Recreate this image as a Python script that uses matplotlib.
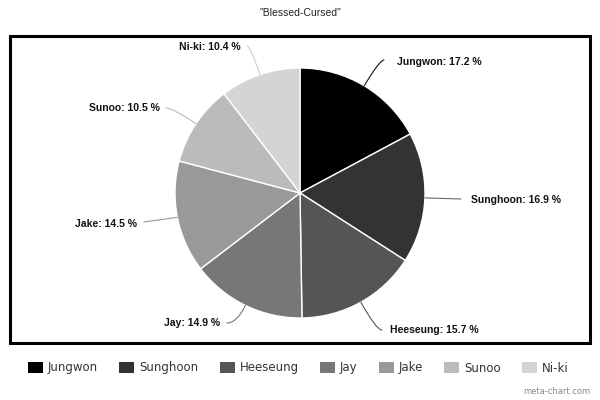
import numpy as np
import matplotlib
matplotlib.use("Agg")
import matplotlib.pyplot as plt
from matplotlib.patches import Rectangle, Patch

# ---- data ----
names = ["Jungwon", "Sunghoon", "Heeseung", "Jay", "Jake", "Sunoo", "Ni-ki"]
values = [17.2, 16.9, 15.7, 14.9, 14.5, 10.5, 10.4]
colors = ["#000000", "#333333", "#555555", "#777777", "#999999", "#bbbbbb", "#d4d4d4"]
line_colors = ["#111111", "#666666", "#555555", "#777777", "#999999", "#bbbbbb", "#cccccc"]
title = '"Blessed-Cursed"'

# ---- layout (pixel coords, y measured from top) ----
W, H = 600, 400
cx, cy, R = 300, 193, 125
label_pos = [(397, 62, "left"), (471, 200, "left"), (390, 330, "left"),
             (220, 323, "right"), (137, 224, "right"), (160, 108, "right"),
             (241, 47, "right")]
elbow = [(384, 60), (461, 199), (382, 330), (227, 323), (144, 222), (166, 108), (247, 46)]

fig = plt.figure(figsize=(6, 4), dpi=100)
ax = fig.add_axes([0, 0, 1, 1])

def Y(y):
    return H - y

wedges, _ = ax.pie(values, colors=colors, startangle=90, counterclock=False,
                   center=(cx, Y(cy)), radius=R,
                   wedgeprops=dict(edgecolor="white", linewidth=1.0))
ax.set_xlim(0, W)
ax.set_ylim(0, H)
ax.set_aspect("equal")
ax.set_axis_off()

# frame box
ax.add_patch(Rectangle((9.5, Y(342.5)), 580.5, 306.5, fill=False, edgecolor="black",
                       linewidth=2.2))

for i, w in enumerate(wedges):
    mid_deg = (w.theta1 + w.theta2) / 2
    mid = np.deg2rad(mid_deg)
    px, py = cx + R * np.cos(mid), Y(cy) + R * np.sin(mid)
    tx, ty, ha = label_pos[i]
    ex, ey = elbow[i]
    if abs(np.sin(mid)) < 0.35:
        cs = "arc3,rad=0"
    else:
        cs = f"angle3,angleA=0,angleB={mid_deg:.1f}"
    ax.annotate("", xy=(px, py), xytext=(ex, Y(ey)),
                arrowprops=dict(arrowstyle="-", color=line_colors[i], lw=0.8,
                                connectionstyle=cs, shrinkA=0, shrinkB=0))
    ax.text(tx, Y(ty), f"{names[i]}: {values[i]} %", ha=ha, va="center",
            fontsize=7.5, fontweight="bold", family="Liberation Sans", color="#111111")

ax.text(W / 2, Y(13), title, ha="center", va="center", fontsize=7.5,
        family="Liberation Sans", color="#222222")

handles = [Patch(facecolor=c, edgecolor="none") for c in colors]
leg = fig.legend(handles, names, ncol=7, loc="center left",
                 bbox_to_anchor=(28 / W, 1 - 368 / H),
                 frameon=False, prop=dict(family="DejaVu Sans", size=8.5),
                 handlelength=1.27, handleheight=1.0, handletextpad=0.42,
                 columnspacing=1.8, borderpad=0, borderaxespad=0)
for t in leg.get_texts():
    t.set_color("#333333")

ax.text(590, Y(392), "meta-chart.com", ha="right", va="center", fontsize=6,
        family="DejaVu Sans", color="#888888")

fig.savefig("out.png", dpi=100)
